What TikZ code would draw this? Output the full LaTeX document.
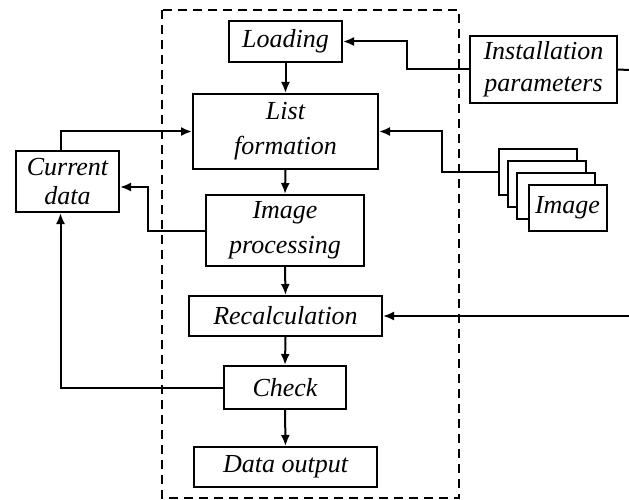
\documentclass[tikz,border=0pt]{standalone}
\usepackage{fontspec}
\setmainfont{Liberation Serif}
\usetikzlibrary{arrows.meta}
\begin{document}
\begin{tikzpicture}[x=1pt,y=-1pt,
  box/.style={draw, line width=2pt, inner sep=0pt, align=center,
    font=\fontsize{26}{32}\selectfont\itshape},
  tall/.style={font=\fontsize{26}{35}\selectfont\itshape},
  card/.style={draw, line width=2pt, fill=white, minimum width=78pt, minimum height=46pt, inner sep=0pt},
  wire/.style={line width=2pt},
  arr/.style={wire, -{Latex[length=11pt,width=9pt]}},
  frame/.style={line width=2pt, dash pattern=on 9pt off 6pt}]
\useasboundingbox (0,0) rectangle (629,500);

% processing block boundary
\draw[frame] (162,10) rectangle (459,498);

% main chain
\node[box, minimum width=113pt, minimum height=41pt] (load) at (285.5,41.5) {Loading};
\node[box, tall, minimum width=185pt, minimum height=75pt] (list) at (285.5,131.5) {List\\formation};
\node[box, tall, minimum width=158pt, minimum height=71pt] (ip) at (285,230.5) {Image\\processing};
\node[box, minimum width=193pt, minimum height=40pt] (recalc) at (285.5,316) {Recalculation};
\node[box, minimum width=122pt, minimum height=43pt] (check) at (285,387.5) {Check};
\node[box, minimum width=183pt, minimum height=40pt] (out) at (285.5,467) {Data output};

% side blocks
\node[box, minimum width=103pt, minimum height=61pt,
  font=\fontsize{26}{29}\selectfont\itshape] (cur) at (67.5,181.5) {Current\\data};
\node[box, minimum width=147pt, minimum height=67pt] (inst) at (543.5,69.5) {Installation\\parameters};

% stack of images
\node[card] (card1) at (538,172) {};
\node[card] (card2) at (547,184) {};
\node[card] (card3) at (556,196) {};
\node[card, font=\fontsize{26}{32}\selectfont\itshape] (card4) at (567.5,208) {Image};

% free ends at the right border
\coordinate (instOut) at (629,70);
\coordinate (recIn) at (629,316);

% vertical flow
\draw[arr] (load.south) -- (list.north);
\draw[arr] (list.south) -- (ip.north);
\draw[arr] (ip.south) -- (recalc.north);
\draw[arr] (recalc.south) -- (check.north);
\draw[arr] (check.south) -- (out.north);

% inputs
\draw[arr] (inst.west) -- ++(-62,0) |- (load.east);
\draw[wire] (inst.east) -- (instOut);
\draw[arr] (card1.west) -- ++(-56,0) |- (list.east);
\draw[arr] (recIn) -- (recalc.east);

% feedback through current data
\draw[arr] ([xshift=-7pt]cur.north) |- (list.west);
\draw[arr] (ip.west) -- ++(-57,0) |- ([yshift=-5.5pt]cur.east);
\draw[arr] (check.west) -| ([xshift=-7pt]cur.south);
\end{tikzpicture}
\end{document}
